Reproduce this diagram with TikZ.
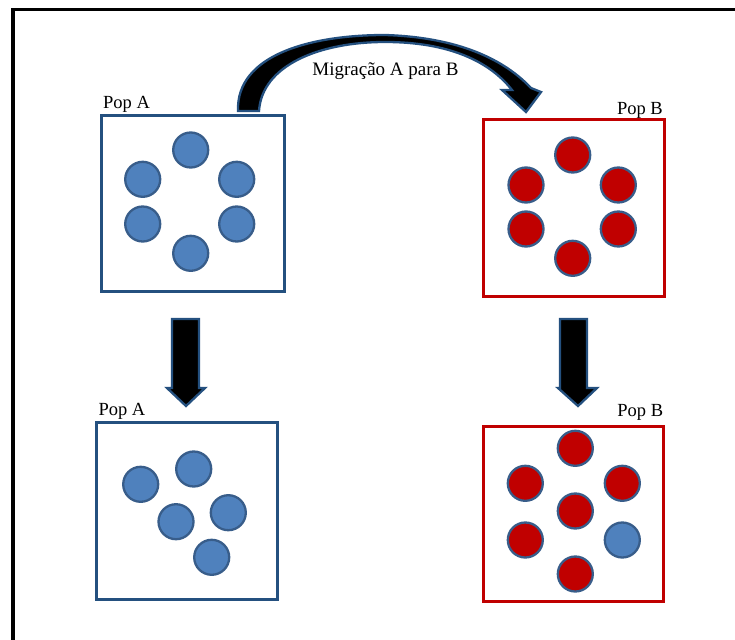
\documentclass[tikz,border=0pt]{standalone}
\usepackage{fontspec}
\setmainfont{Liberation Serif}
\newfontfamily\labelface{Liberation Serif}
\definecolor{popblue}{HTML}{4F81BD}
\definecolor{rimblue}{HTML}{385D8A}
\definecolor{boxblue}{HTML}{24507F}
\definecolor{popred}{HTML}{C00000}
\begin{document}
\begin{tikzpicture}[x=1pt,y=-1pt,
  popbox/.style={rectangle, draw, line width=3pt, inner sep=0pt},
  boxa/.style={popbox, draw=boxblue},
  boxb/.style={popbox, draw=popred},
  ind/.style={circle, draw=rimblue, line width=2.3pt, minimum size=35pt, inner sep=0pt},
  inda/.style={ind, fill=popblue},
  indb/.style={ind, fill=popred},
  poplabel/.style={inner sep=0pt, font=\labelface\fontsize{18.5}{20}\selectfont},
  blockarrow/.style={fill=black, draw=boxblue, line width=2.3pt, line join=miter}]
\useasboundingbox (0,0) rectangle (735,639);
\clip (0,0) rectangle (735,639);

% outer frame (only the top and left sides fall inside the page)
\draw[line width=3.5pt] (13,700) -- (13,9.5) -- (800,9.5);

% the four populations
\node[boxa, minimum width=183pt, minimum height=175.5pt] (Atop) at (193,203.25) {};
\node[boxb, minimum width=181.5pt, minimum height=176pt] (Btop) at (573.75,208) {};
\node[boxa, minimum width=181.4pt, minimum height=176.7pt] (Abot) at (187,510.65) {};
\node[boxb, minimum width=180.7pt, minimum height=175pt] (Bbot) at (573.35,513.5) {};

\node[poplabel, anchor=base west] (labAtop) at (103,109) {Pop A};
\node[poplabel, anchor=base east] (labBtop) at (663,115) {Pop B};
\node[poplabel, anchor=base west] (labAbot) at (98.3,415.7) {Pop A};
\node[poplabel, anchor=base east] (labBbot) at (663.3,416.7) {Pop B};

% Pop A before migration
\node[inda] (a1) at (190.7,150) {};
\node[inda] (a2) at (142.7,179.3) {};
\node[inda] (a3) at (236.7,179.3) {};
\node[inda] (a4) at (142.7,224) {};
\node[inda] (a5) at (236.7,224) {};
\node[inda] (a6) at (190.7,253.3) {};

% Pop B before migration
\node[indb] (b1) at (572.7,155) {};
\node[indb] (b2) at (526,185) {};
\node[indb] (b3) at (618.3,185) {};
\node[indb] (b4) at (526,229) {};
\node[indb] (b5) at (618.3,229) {};
\node[indb] (b6) at (572.7,258.3) {};

% Pop A after migration
\node[inda] (c1) at (140.7,484.3) {};
\node[inda] (c2) at (193.7,469) {};
\node[inda] (c3) at (176,521.7) {};
\node[inda] (c4) at (228.3,512.7) {};
\node[inda] (c5) at (211.7,557.3) {};

% Pop B after migration (one migrant from A)
\node[indb] (d1) at (575.3,448.3) {};
\node[indb] (d2) at (525.3,483.3) {};
\node[indb] (d3) at (622.3,483.3) {};
\node[indb] (d4) at (575.3,511) {};
\node[indb] (d5) at (525.3,540) {};
\node[inda] (d6) at (622.3,540) {};
\node[indb] (d7) at (575.3,574) {};

% curved migration arrow from A to B
\draw[blockarrow]
  (238,111) .. controls (236,55) and (310,35) .. (385,35)
  .. controls (450,37) and (500,55) .. (531,88)
  -- (541,92) -- (526,112) -- (502,90) -- (512,90)
  .. controls (490,62) and (450,42) .. (385,42)
  .. controls (320,42) and (262,65) .. (259,111) -- cycle;
\node[inner sep=0pt, anchor=base, font=\labelface\fontsize{19}{20}\selectfont] (mig) at (385.5,76) {Migração A para B};

% generation arrows
\draw[blockarrow]
  (172,319) -- (199,319) -- (199,388) -- (205,388) -- (186,406)
  -- (167,388) -- (172,388) -- cycle;
\draw[blockarrow]
  (560,319) -- (587,319) -- (587,388) -- (597,388) -- (578,406)
  -- (558,388) -- (560,388) -- cycle;
\end{tikzpicture}
\end{document}
